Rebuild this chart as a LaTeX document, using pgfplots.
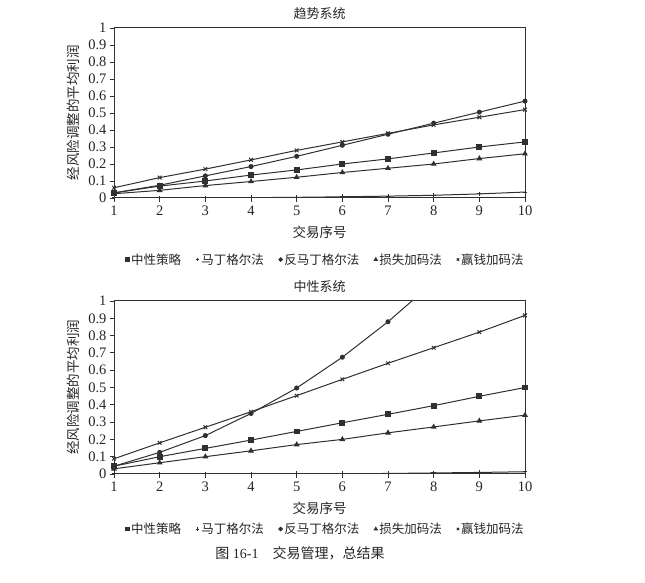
\documentclass[border=0pt]{standalone}
\usepackage{fontspec}
\setmainfont{Liberation Serif}
\newfontfamily\cjk{Noto Sans CJK SC}
\usepackage{pgfplots}
\pgfplotsset{compat=1.18}
\definecolor{ln}{HTML}{303030}

\pgfplotsset{
  mystyle/.style={
    scale only axis, width=411pt,
    xmin=1, xmax=10, ymin=0, ymax=1,
    xtick={1,2,3,4,5,6,7,8,9,10},
    ytick={0,0.1,0.2,0.3,0.4,0.5,0.6,0.7,0.8,0.9,1},
    yticklabels={0,0.1,0.2,0.3,0.4,0.5,0.6,0.7,0.8,0.9,1},
    /pgf/number format/assume math mode=true,
    tick label style={font=\fontsize{14.5}{16}\selectfont, text=black!85},
    tick align=outside, xtick pos=bottom, ytick pos=left,
    major tick length=4pt,
    axis line style={ln, line width=1pt},
    every tick/.style={ln, line width=0.8pt},
    xlabel={{\cjk 交易序号}},
    ylabel={{\cjk 经风险调整的平均利润}},
    label style={font=\fontsize{13.5}{15}\selectfont, text=black!85},
    xlabel style={at={(axis description cs:0.5,0)}, anchor=center, yshift=-34pt},
    ylabel style={at={(axis description cs:-0.1,0.5)}, anchor=center, rotate=0},
    title style={font=\fontsize{13}{15}\selectfont\cjk, text=black!85, at={(axis description cs:0.5,1)}, anchor=base},
    legend columns=5,
    legend style={draw=none, fill=none, font=\fontsize{12.5}{14}\selectfont\cjk, text=black!85,
      /tikz/every even column/.append style={column sep=13pt},
      inner sep=0pt, anchor=center},
    legend image code/.code={\draw[#1, mark size=1.7pt] plot[only marks] coordinates {(0.3em,0pt)};},
    every axis plot/.append style={ln, line width=1pt, mark size=2.4pt, mark options={solid, fill=ln}},
  }
}

\begin{document}
\begin{tikzpicture}[x=1pt,y=1pt]
\path[use as bounding box, fill=white] (0,0) rectangle (645,583);

% ---------- Top: trend system ----------
\begin{axis}[mystyle, height=170pt, at={(114pt,385pt)}, anchor=south west,
  title={趋势系统}, title style={yshift=3pt},
  legend style={at={(axis description cs:0.515,-0.362)}}]
\addplot[mark=square*] coordinates {(1,0.03)(2,0.07)(3,0.10)(4,0.135)(5,0.165)(6,0.20)(7,0.23)(8,0.265)(9,0.30)(10,0.33)};
\addlegendentry{中性策略}
\addplot[mark=+] coordinates {(1,0.0)(2,0.0)(3,0.0)(4,0.002)(5,0.004)(6,0.007)(7,0.011)(8,0.016)(9,0.024)(10,0.035)};
\addlegendentry{马丁格尔法}
\addplot[mark=*, mark size=2pt] coordinates {(1,0.03)(2,0.075)(3,0.13)(4,0.185)(5,0.245)(6,0.31)(7,0.375)(8,0.44)(9,0.505)(10,0.57)};
\addlegendentry{反马丁格尔法}
\addplot[mark=triangle*] coordinates {(1,0.025)(2,0.045)(3,0.073)(4,0.097)(5,0.122)(6,0.15)(7,0.175)(8,0.20)(9,0.232)(10,0.26)};
\addlegendentry{损失加码法}
\addplot[mark=x, mark size=2.6pt] coordinates {(1,0.06)(2,0.12)(3,0.17)(4,0.224)(5,0.28)(6,0.33)(7,0.38)(8,0.43)(9,0.475)(10,0.52)};
\addlegendentry{赢钱加码法}
\end{axis}

% ---------- Bottom: neutral system ----------
\begin{axis}[mystyle, height=173pt, at={(114pt,109pt)}, anchor=south west,
  title={中性系统}, title style={yshift=3pt},
  legend style={at={(axis description cs:0.515,-0.318)}}]
\addplot[mark=square*] coordinates {(1,0.045)(2,0.10)(3,0.148)(4,0.196)(5,0.246)(6,0.296)(7,0.345)(8,0.395)(9,0.449)(10,0.50)};
\addlegendentry{中性策略}
\addplot[mark=+] coordinates {(1,0.0)(2,0.0)(3,0.0)(4,0.0)(5,0.001)(6,0.002)(7,0.003)(8,0.006)(9,0.009)(10,0.013)};
\addlegendentry{马丁格尔法}
\addplot[mark=*, mark size=2pt] coordinates {(1,0.045)(2,0.125)(3,0.222)(4,0.35)(5,0.497)(6,0.675)(7,0.88)(8,1.11)(9,1.37)(10,1.65)};
\addlegendentry{反马丁格尔法}
\addplot[mark=triangle*] coordinates {(1,0.03)(2,0.065)(3,0.10)(4,0.134)(5,0.17)(6,0.20)(7,0.238)(8,0.272)(9,0.307)(10,0.34)};
\addlegendentry{损失加码法}
\addplot[mark=x, mark size=2.6pt] coordinates {(1,0.088)(2,0.18)(3,0.27)(4,0.36)(5,0.453)(6,0.547)(7,0.64)(8,0.73)(9,0.82)(10,0.917)};
\addlegendentry{赢钱加码法}
\end{axis}

\node[font=\fontsize{14}{16}\selectfont, text=black!85] at (300,30) {{\cjk 图} 16-1\quad{\cjk 交易管理，总结果}};
\end{tikzpicture}
\end{document}
